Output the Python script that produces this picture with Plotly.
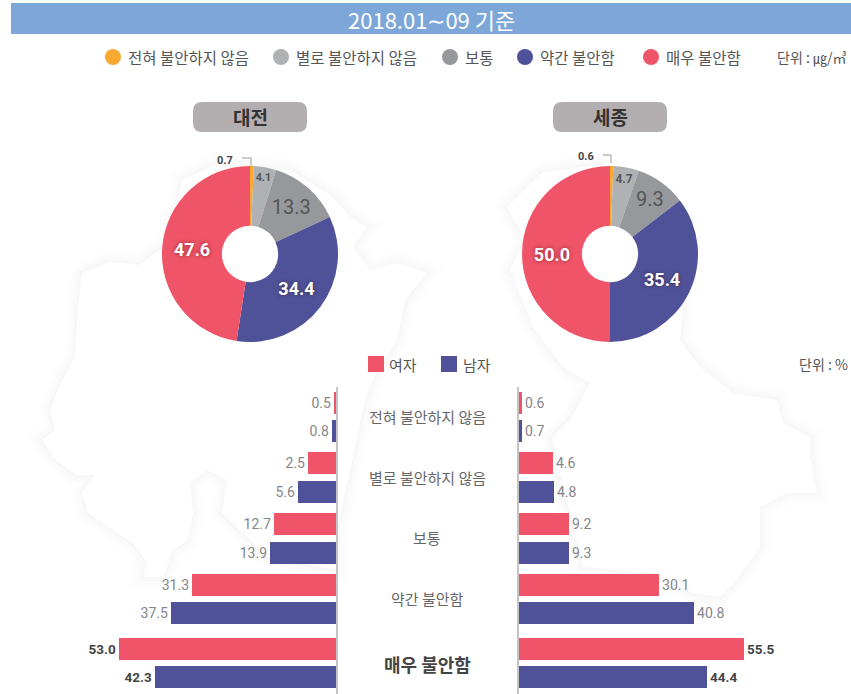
import plotly.graph_objects as go

W, H = 851, 694
KR = "'Noto Sans CJK KR', 'Noto Sans', sans-serif"
NUM = "Roboto, 'Noto Sans', sans-serif"

title = "2018.01∼09 기준"
levels = ["전혀 불안하지 않음", "별로 불안하지 않음", "보통", "약간 불안함", "매우 불안함"]
legend_labels = ["전혀 불안하지 않음", "별로 불안하지 않음", "보통", "약간 불안함", "매우 불안함"]
colors = ["#f9a930", "#b0b1b5", "#97989b", "#4f5299", "#ef5468"]

daejeon_pie = [0.7, 4.1, 13.3, 34.4, 47.6]
sejong_pie = [0.6, 4.7, 9.3, 35.4, 50.0]

# Labels printed on the bars
dj_f = [0.5, 2.5, 12.7, 31.3, 53.0]
dj_m = [0.8, 5.6, 13.9, 37.5, 42.3]
sj_f = [0.6, 4.6, 9.2, 30.1, 55.5]
sj_m = [0.7, 4.8, 9.3, 40.8, 44.4]
# Bar lengths as drawn in the picture (the reference bars are not to scale with their labels)
dj_f_len = [0.5, 6.8, 15.2, 35.2, 53.0]
dj_m_len = [1.0, 9.3, 16.1, 40.3, 44.3]
sj_f_len = [0.7, 8.3, 12.2, 34.2, 55.0]
sj_m_len = [0.7, 8.6, 12.2, 42.8, 46.0]

RED, BLUE = "#ef5468", "#4f5299"
px_per_unit = 4.09

# Decorative map silhouette behind the charts (picture pixels)
map_left = [(62, 380), (75, 357), (78, 307), (82, 273), (110, 262), (140, 265), (163, 247), (175, 215), (182, 180),
            (215, 165), (290, 170), (333, 197), (350, 217), (367, 227), (353, 247), (370, 270), (397, 263), (427, 273),
            (405, 300), (397, 340), (375, 375), (365, 400), (350, 470), (335, 540), (337, 570), (267, 557), (243, 533),
            (222, 513), (227, 480), (207, 470), (190, 483), (193, 513), (188, 540), (173, 550), (163, 577), (143, 577),
            (147, 562), (133, 543), (113, 530), (88, 513), (82, 493), (95, 475), (77, 475), (55, 460), (42, 440),
            (55, 430), (50, 410)]
map_right = [(507, 207), (543, 172), (600, 165), (683, 307), (680, 340), (700, 367), (733, 393), (777, 400), (783, 423),
             (810, 437), (810, 457), (817, 493), (787, 493), (760, 507), (760, 547), (737, 580), (720, 597), (693, 593),
             (653, 573), (583, 567), (557, 460), (552, 437), (570, 420), (590, 383), (563, 367), (533, 327), (510, 270),
             (525, 240)]


def X(p):
    return p / W


def Y(p):
    return 1 - p / H


fig = go.Figure()


def rect(x0, y0, x1, y1, **kw):
    return dict(type="rect", xref="paper", yref="paper", x0=X(x0), x1=X(x1), y0=Y(y0), y1=Y(y1), **kw)


def note(x, y, text, size=13, color="#555", anchor="left", family=KR, bold=False):
    fig.add_annotation(xref="paper", yref="paper", x=X(x), y=Y(y), text=f"<b>{text}</b>" if bold else text,
                       showarrow=False, xanchor=anchor, yanchor="middle",
                       font=dict(size=size, color=color, family=family), borderpad=0, borderwidth=0)


shapes = []


def poly(points):
    return "M " + " L ".join(f"{X(a)} {Y(b)}" for a, b in points) + " Z"


for pts in (map_left, map_right):
    for w, a in ((26, 0.004), (20, 0.005), (14, 0.006), (8, 0.007), (4, 0.008)):
        shapes.append(dict(type="path", xref="paper", yref="paper", path=poly(pts), layer="below",
                           line=dict(color=f"rgba(0,0,0,{a})", width=w)))
for pts in (map_left, map_right):
    shapes.append(dict(type="path", xref="paper", yref="paper", path=poly(pts), layer="below",
                       fillcolor="white", line_width=0))

# header band
shapes.append(rect(11, 3, 851, 34, fillcolor="#7da7d9", line_width=0, layer="below"))
note(431, 19, title, 22, "white", "center")

# top legend
leg_x = [113, 281, 450, 525, 651]
for lx, lab, c in zip(leg_x, legend_labels, colors):
    shapes.append(dict(type="circle", xref="paper", yref="paper", x0=X(lx - 8), x1=X(lx + 8), y0=Y(49), y1=Y(65),
                       fillcolor=c, line_width=0))
    note(lx + 15, 57, lab, 15.5, "#555")
note(777, 57, "단위 : ㎍/㎥", 14, "#555")


# pills
def pill(x0, x1, y0, y1, r=9):
    xa, xb, ya, yb = X(x0), X(x1), Y(y0), Y(y1)
    rx, ry = r / W, r / H
    return dict(type="path", xref="paper", yref="paper", fillcolor="#b3afb0", line_width=0,
                path=f"M {xa+rx} {ya} L {xb-rx} {ya} Q {xb} {ya} {xb} {ya-ry} L {xb} {yb+ry} Q {xb} {yb} {xb-rx} {yb} "
                     f"L {xa+rx} {yb} Q {xa} {yb} {xa} {yb+ry} L {xa} {ya-ry} Q {xa} {ya} {xa+rx} {ya} Z")


shapes.append(pill(193, 307, 102, 132))
shapes.append(pill(553, 667, 102, 132))
note(250, 117, "대전", 19, "#333", "center", bold=True)
note(610, 117, "세종", 19, "#333", "center", bold=True)


# pies
def pie(vals, cx, cy=254, r=88):
    sizes = [1, 12, 20, 18, 18]
    txtcol = ["#555", "#555", "#555", "white", "white"]
    glow = "0 0 4px rgba(60,0,0,0.5)"
    shadows = ["none", "none", "none", glow, glow]
    txt = [""] + [f"<b>{v:.1f}</b>" if i >= 3 or i == 1 else f"{v:.1f}" for i, v in enumerate(vals[1:], 1)]
    fig.add_trace(go.Pie(values=vals, labels=levels, sort=False, direction="clockwise", rotation=0, hole=0.32,
                         marker=dict(colors=colors, line=dict(width=0)), text=txt, textinfo="text",
                         textposition="inside", insidetextorientation="horizontal",
                         textfont=dict(family=NUM, size=sizes, color=txtcol, shadow=shadows),
                         showlegend=False, hoverinfo="label+value",
                         domain=dict(x=[X(cx - r), X(cx + r)], y=[Y(cy + r), Y(cy - r)])))


pie(daejeon_pie, 250)
pie(sejong_pie, 610)
note(225, 160, f"{daejeon_pie[0]:.1f}", 11, "#444", "center", NUM, True)
note(586, 157, f"{sejong_pie[0]:.1f}", 11, "#444", "center", NUM, True)
for x0, x1, y0 in ((242, 251, 158), (603, 611, 155)):
    shapes.append(dict(type="path", xref="paper", yref="paper", line=dict(color="#999", width=1),
                       path=f"M {X(x0)} {Y(y0)} L {X(x1)} {Y(y0)} L {X(x1)} {Y(y0+8)}"))

# gender legend
shapes.append(rect(368, 356, 384, 372, fillcolor=RED, line_width=0))
shapes.append(rect(441, 356, 457, 372, fillcolor=BLUE, line_width=0))
note(389, 364, "여자", 15, "#555")
note(463, 364, "남자", 15, "#555")
note(799, 364, "단위 : %", 14, "#555")

# bars
group_pos = [0, 1, 2, 3, 4.05]
off, bw = 0.235, 0.362
lab_col = ["#85868a", "#85868a", "#85868a", "#85868a", "#444"]
lab_size = [14, 14, 14, 14, 13.5]


def bars(lens, labels, color, sign, xa, ya):
    fig.add_trace(go.Bar(y=[p + sign * off for p in group_pos], x=lens, width=bw, orientation="h",
                         marker=dict(color=color, line_width=0), xaxis=xa, yaxis=ya, showlegend=False,
                         text=[f"<b>{v:.1f}</b>" if i == 4 else f"{v:.1f}" for i, v in enumerate(labels)],
                         textposition="outside", cliponaxis=False,
                         textfont=dict(family=NUM, size=lab_size, color=lab_col), hoverinfo="x"))


bars(dj_f_len, dj_f, RED, -1, "x", "y")
bars(dj_m_len, dj_m, BLUE, 1, "x", "y")
bars(sj_f_len, sj_f, RED, -1, "x2", "y2")
bars(sj_m_len, sj_m, BLUE, 1, "x2", "y2")

for i, (p, lab) in enumerate(zip(group_pos, levels)):
    y_px = 417 + p * 60.7
    if i == 4:
        note(427, y_px + 1, lab, 18, "#444", "center", bold=True)
    else:
        note(427, y_px - 0.5, lab, 15, "#666", "center")

yrange = [4.563, -0.494]
ydom = [0, Y(387)]
ax = dict(showgrid=False, zeroline=False, showticklabels=False, ticks="", fixedrange=True)
fig.update_layout(
    width=W, height=H, margin=dict(l=0, r=0, t=0, b=0), paper_bgcolor="white", plot_bgcolor="rgba(0,0,0,0)",
    font=dict(family=KR), shapes=shapes, showlegend=False, bargap=0,
    barmode="overlay",
    xaxis=dict(domain=[0, X(336)], range=[336 / px_per_unit, 0], **ax),
    yaxis=dict(domain=ydom, range=yrange, anchor="x", side="right", showline=True, linecolor="#c4c4c4", linewidth=1.5, **ax),
    xaxis2=dict(domain=[X(519), 1], range=[0, 332 / px_per_unit], **ax),
    yaxis2=dict(domain=ydom, range=yrange, anchor="x2", showline=True, linecolor="#c4c4c4", linewidth=1.5, **ax),
)
fig.write_html("out.html", config=dict(displayModeBar=False),
               post_script="document.body.style.margin='0';document.body.style.overflow='hidden';")
